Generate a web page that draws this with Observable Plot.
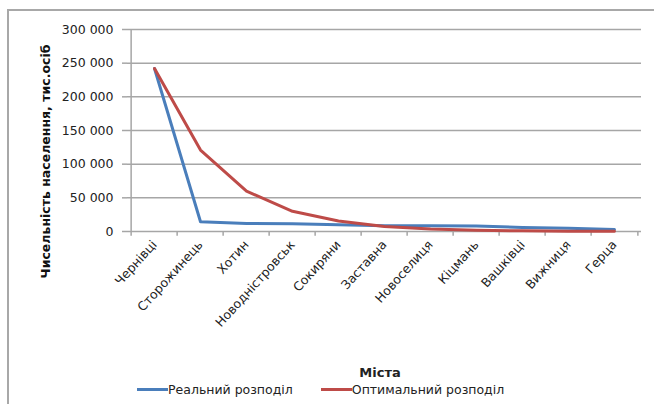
<!DOCTYPE html>
<html>
<head>
<meta charset="utf-8">
<script src="https://cdn.jsdelivr.net/npm/d3@7"></script>
<script src="https://cdn.jsdelivr.net/npm/@observablehq/plot@0.6"></script>
<style>
  html, body { margin: 0; padding: 0; background: #fff; }
  body { width: 654px; height: 404px; position: relative; overflow: hidden; font-family: "DejaVu Sans", sans-serif; color: #222; }
  #frame { position: absolute; left: 7px; top: 9px; width: 660px; height: 400px; border-top: 2px solid #a8a8a8; border-left: 2px solid #a8a8a8; pointer-events: none; }
  #chart { position: absolute; left: 0; top: 0; }
  #xtitle { position: absolute; left: 0; width: 760px; top: 365px; text-align: center; font-weight: bold; font-size: 13px; }
  #legend { position: absolute; top: 382px; left: 137px; font-size: 12.5px; display: flex; align-items: center; }
  .sw { display: inline-block; width: 31px; height: 3px; }
  .item { display: flex; align-items: center; }
</style>
</head>
<body>
<div id="chart"></div>
<div id="frame"></div>
<div id="xtitle">Міста</div>
<div id="legend"></div>
<script>
const cities = ["Чернівці","Сторожинець","Хотин","Новодністровськ","Сокиряни","Заставна","Новоселиця","Кіцмань","Вашківці","Вижниця","Герца"];
const seriesNames = ["Реальний розподіл","Оптимальний розподіл"];
const realValues = [242000, 14500, 12000, 11500, 10000, 8500, 8500, 8000, 6000, 5000, 3000];
const optimalValues = [242000, 121000, 60000, 30000, 15500, 7500, 3800, 1900, 1000, 500, 250];
const yTicks = [0, 50000, 100000, 150000, 200000, 250000, 300000];
const yTitle = "Чисельність населення, тис.осіб";
const colors = ["#4a7ebb", "#be4b48"];

const rows = [];
cities.forEach((c, i) => {
  rows.push({city: c, series: seriesNames[0], value: realValues[i]});
  rows.push({city: c, series: seriesNames[1], value: optimalValues[i]});
});

const W = 654, H = 355, mL = 127, mR = 13, mT = 29, mB = H - 231;
const bw = (W - mL - mR) / cities.length;
const fmt = d => d3.format(",")(d).replace(/,/g, " ");

const chart = Plot.plot({
  width: W, height: H,
  marginLeft: mL, marginRight: mR, marginTop: mT, marginBottom: mB,
  style: {fontFamily: "DejaVu Sans", fontSize: "12.5px", color: "#222", background: "transparent"},
  x: {type: "band", domain: cities, padding: 0, label: null},
  y: {domain: [0, 300000], label: null},
  color: {domain: seriesNames, range: colors},
  marks: [
    Plot.gridY(yTicks, {stroke: "#a6a6a6", strokeOpacity: 1, strokeWidth: 1.5}),
    Plot.axisY(yTicks, {tickSize: 5, tickPadding: 9, stroke: "#a6a6a6", strokeWidth: 1.5, tickFormat: fmt, label: null}),
    Plot.ruleX([cities[0]], {dx: -bw / 2, y1: 0, y2: 300000, stroke: "#a6a6a6", strokeWidth: 1.5}),
    Plot.ruleX(cities, {x: d => d, dx: -bw / 2, y1: 0, y2: -7000, stroke: "#a6a6a6", strokeWidth: 1.5}),
    Plot.ruleX([cities[cities.length - 1]], {dx: bw / 2, y1: 0, y2: -7000, stroke: "#a6a6a6", strokeWidth: 1.5}),
    Plot.axisX({tickSize: 0, tickPadding: 11, tickRotate: -48, label: null}),
    Plot.line(rows, {x: "city", y: "value", stroke: "series", strokeWidth: 3, curve: "linear"}),
    Plot.text([yTitle], {frameAnchor: "left", textAnchor: "middle", dx: -82, dy: 31, rotate: -90, fontWeight: "bold", fontSize: 12.5, fill: "#111"})
  ]
});
document.getElementById("chart").appendChild(chart);

const legend = document.getElementById("legend");
seriesNames.forEach((s, i) => {
  const item = document.createElement("div");
  item.className = "item";
  item.style.marginRight = i === 0 ? "28px" : "0";
  const sw = document.createElement("span");
  sw.className = "sw";
  sw.style.background = colors[i];
  const t = document.createElement("span");
  t.textContent = s;
  item.appendChild(sw);
  item.appendChild(t);
  legend.appendChild(item);
});
</script>
</body>
</html>
